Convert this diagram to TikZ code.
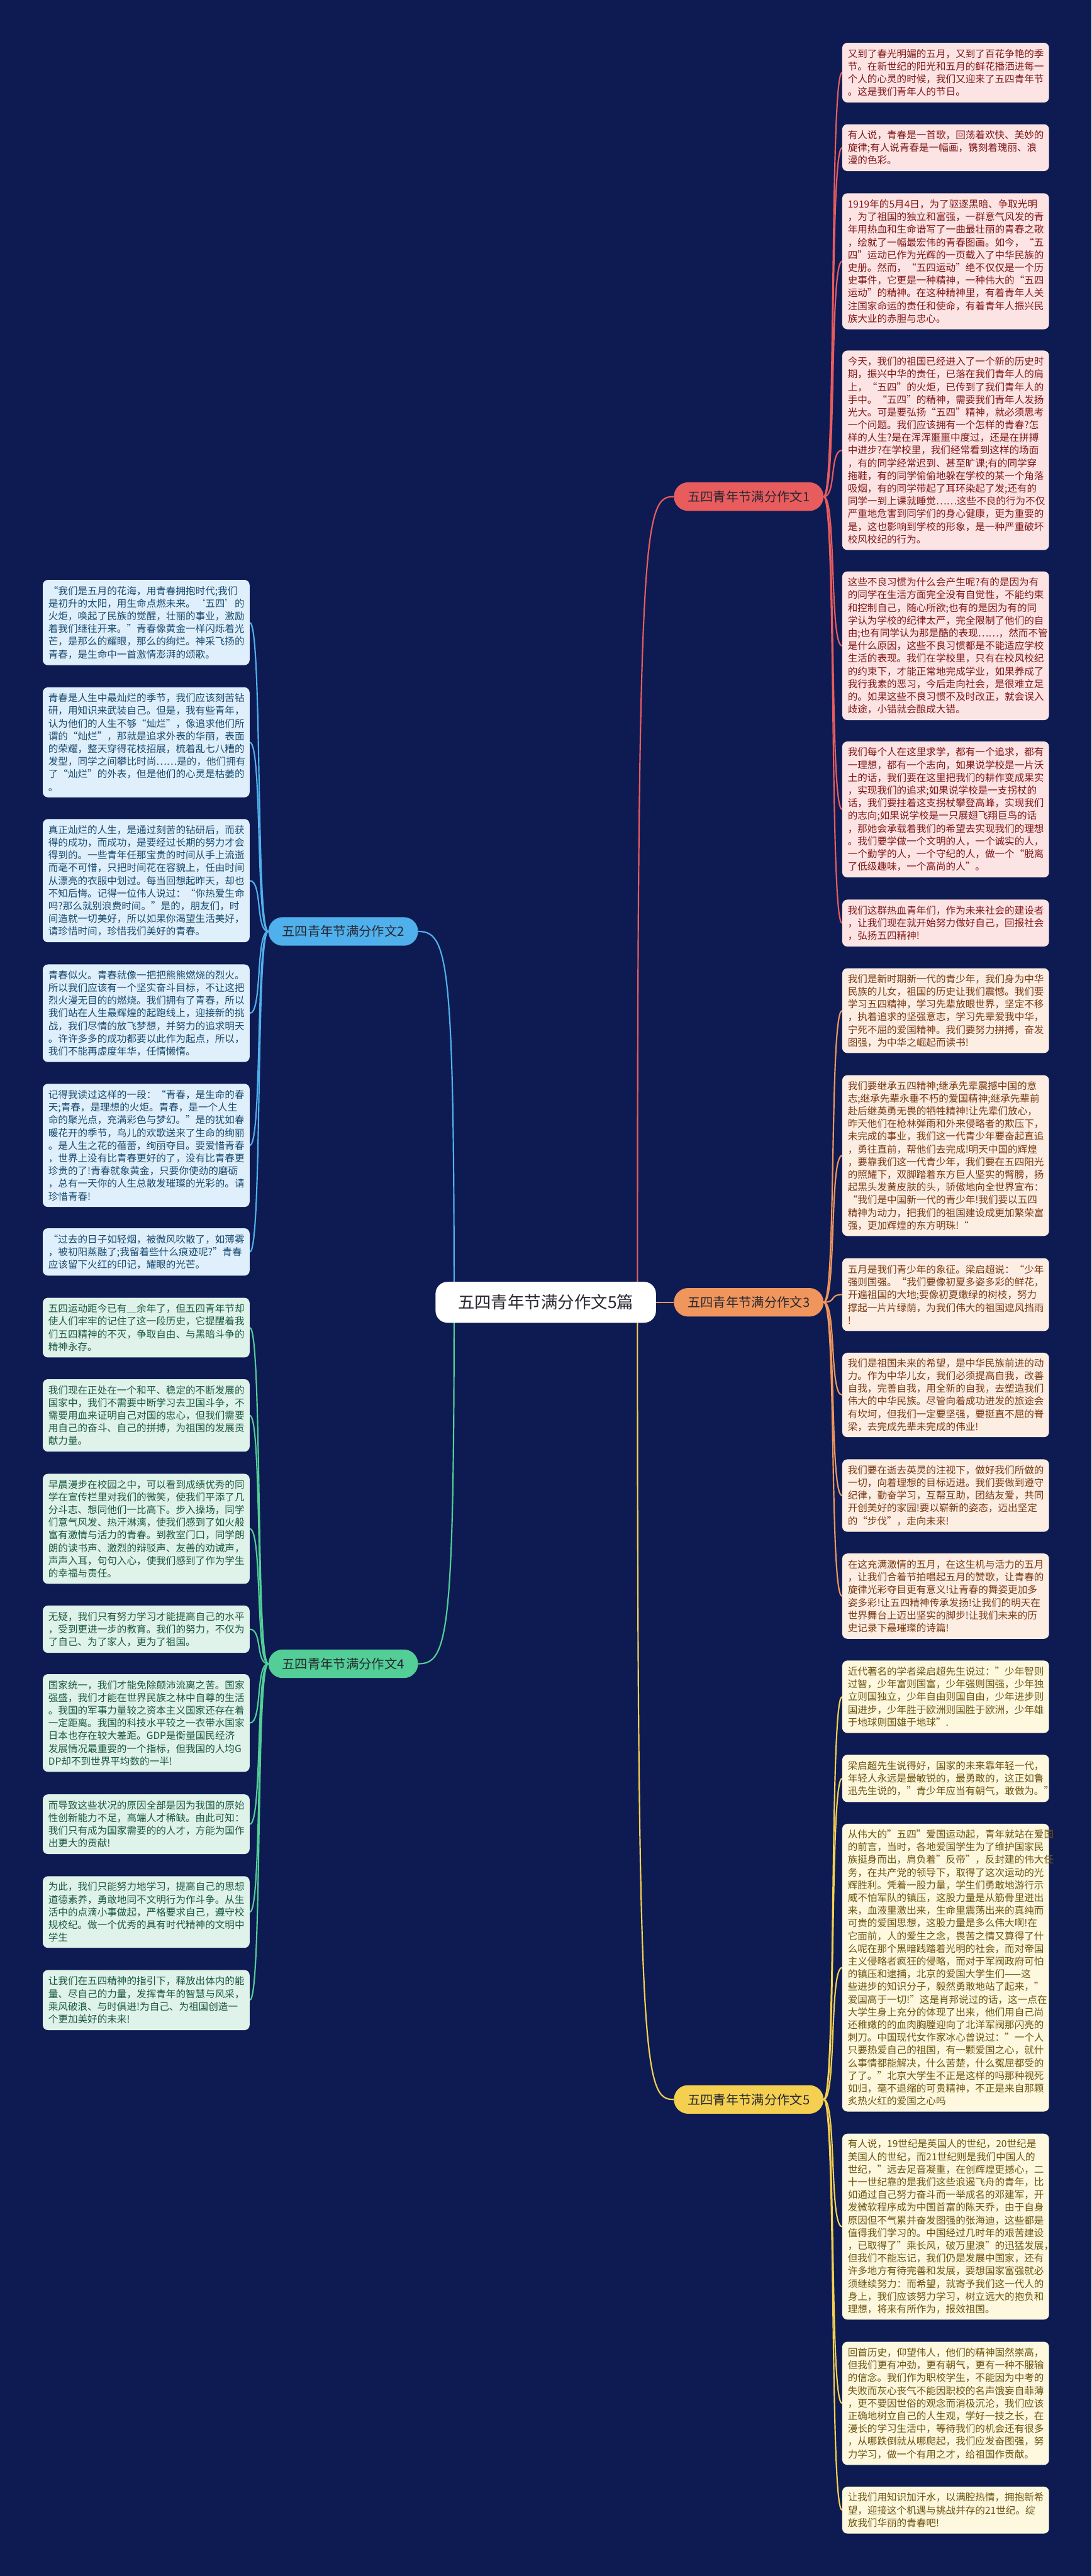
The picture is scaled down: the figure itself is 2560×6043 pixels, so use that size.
\documentclass[tikz,border=0pt]{standalone}
\usepackage{fontspec}
\setmainfont{Noto Sans CJK SC}
\usetikzlibrary{calc}
\definecolor{bgc}{RGB}{13,27,82}
\definecolor{redline}{RGB}{232,92,94}
\definecolor{redfill}{RGB}{253,228,228}
\definecolor{redtext}{RGB}{128,24,24}
\definecolor{orline}{RGB}{240,150,92}
\definecolor{orfill}{RGB}{253,238,228}
\definecolor{ortext}{RGB}{122,58,18}
\definecolor{yeline}{RGB}{245,208,80}
\definecolor{yefill}{RGB}{253,248,222}
\definecolor{yetext}{RGB}{110,84,16}
\definecolor{blline}{RGB}{80,176,236}
\definecolor{blfill}{RGB}{223,240,252}
\definecolor{bltext}{RGB}{26,74,110}
\definecolor{grline}{RGB}{82,206,150}
\definecolor{grfill}{RGB}{223,243,234}
\definecolor{grtext}{RGB}{28,88,64}
\definecolor{brtext}{RGB}{40,40,50}
\pgfdeclarelayer{bg}
\pgfdeclarelayer{edges}
\pgfsetlayers{bg,edges,main}
\tikzset{
  card/.style={anchor=north west, rounded corners=6pt, inner xsep=6.5pt, inner ysep=3pt,
    text width=229.5pt, align=left, font=\fontsize{11.5pt}{14.9pt}\selectfont},
  redcard/.style={card, fill=redfill, text=redtext},
  orcard/.style={card, fill=orfill, text=ortext},
  yecard/.style={card, fill=yefill, text=yetext},
  blcard/.style={card, fill=blfill, text=bltext},
  grcard/.style={card, fill=grfill, text=grtext},
  branch/.style={rounded corners=16.75pt, minimum width=175.5pt, minimum height=33.5pt,
    inner sep=0pt, font=\fontsize{15pt}{18pt}\selectfont, text=brtext},
  hub/.style={rounded corners=14pt, minimum width=258.5pt, minimum height=48pt,
    inner sep=0pt, fill=white, font=\fontsize{19.5pt}{23pt}\selectfont, text=brtext},
  link/.style={line width=1.6pt},
}
\newcommand\card[6]{\node[#2, minimum height={#5*0.5pt-#4*0.5pt}] (#1) at (#3,#4) {#6};}
\begin{document}
\begin{tikzpicture}[x=0.5pt,y=-0.5pt]
\useasboundingbox (0,0) rectangle (2560,6043);
\begin{pgfonlayer}{bg}
\fill[bgc] (0,0) rectangle (2560,6043);
\end{pgfonlayer}

% central and branch nodes
\node[hub] (c) at (1280,3055) {五四青年节满分作文5篇};
\coordinate (cR) at (1495,3055);
\coordinate (cL) at (1065,3055);
\node[branch, fill=redline] (B1) at (1756,1165) {五四青年节满分作文1};
\node[branch, fill=blline] (B2) at (805,2185) {五四青年节满分作文2};
\node[branch, fill=orline] (B3) at (1756,3055) {五四青年节满分作文3};
\node[branch, fill=grline] (B4) at (805,3903) {五四青年节满分作文4};
\node[branch, fill=yeline] (B5) at (1756,4925) {五四青年节满分作文5};

% branch 1
\card{r1}{redcard}{1975}{100}{240}{又到了春光明媚的五月，又到了百花争艳的季\\节。在新世纪的阳光和五月的鲜花播洒进每一\\个人的心灵的时候，我们又迎来了五四青年节\\。这是我们青年人的节日。}
\card{r2}{redcard}{1975}{291}{401}{有人说，青春是一首歌，回荡着欢快、美妙的\\旋律;有人说青春是一幅画，镌刻着瑰丽、浪\\漫的色彩。}
\card{r3}{redcard}{1975}{453}{772}{1919年的5月4日，为了驱逐黑暗、争取光明\\，为了祖国的独立和富强，一群意气风发的青\\年用热血和生命谱写了一曲最壮丽的青春之歌\\，绘就了一幅最宏伟的青春图画。如今，“五\\四”运动已作为光辉的一页载入了中华民族的\\史册。然而，“五四运动”绝不仅仅是一个历\\史事件，它更是一种精神，一种伟大的“五四\\运动”的精神。在这种精神里，有着青年人关\\注国家命运的责任和使命，有着青年人振兴民\\族大业的赤胆与忠心。}
\card{r4}{redcard}{1975}{822}{1290}{今天，我们的祖国已经进入了一个新的历史时\\期，振兴中华的责任，已落在我们青年人的肩\\上，“五四”的火炬，已传到了我们青年人的\\手中。“五四”的精神，需要我们青年人发扬\\光大。可是要弘扬“五四”精神，就必须思考\\一个问题。我们应该拥有一个怎样的青春?怎\\样的人生?是在浑浑噩噩中度过，还是在拼搏\\中进步?在学校里，我们经常看到这样的场面\\，有的同学经常迟到、甚至旷课;有的同学穿\\拖鞋，有的同学偷偷地躲在学校的某一个角落\\吸烟，有的同学带起了耳环染起了发;还有的\\同学一到上课就睡觉……这些不良的行为不仅\\严重地危害到同学们的身心健康，更为重要的\\是，这也影响到学校的形象，是一种严重破坏\\校风校纪的行为。}
\card{r5}{redcard}{1975}{1340}{1689}{这些不良习惯为什么会产生呢?有的是因为有\\的同学在生活方面完全没有自觉性，不能约束\\和控制自己，随心所欲;也有的是因为有的同\\学认为学校的纪律太严，完全限制了他们的自\\由;也有同学认为那是酷的表现……，然而不管\\是什么原因，这些不良习惯都是不能适应学校\\生活的表现。我们在学校里，只有在校风校纪\\的约束下，才能正常地完成学业，如果养成了\\我行我素的恶习，今后走向社会，是很难立足\\的。如果这些不良习惯不及时改正，就会误入\\歧途，小错就会酿成大错。}
\card{r6}{redcard}{1975}{1739}{2058}{我们每个人在这里求学，都有一个追求，都有\\一理想，都有一个志向，如果说学校是一片沃\\土的话，我们要在这里把我们的耕作变成果实\\，实现我们的追求;如果说学校是一支拐杖的\\话，我们要拄着这支拐杖攀登高峰，实现我们\\的志向;如果说学校是一只展翅飞翔巨鸟的话\\，那她会承载着我们的希望去实现我们的理想\\。我们要学做一个文明的人，一个诚实的人，\\一个勤学的人，一个守纪的人，做一个“脱离\\了低级趣味，一个高尚的人”。}
\card{r7}{redcard}{1975}{2110}{2220}{我们这群热血青年们，作为未来社会的建设者\\，让我们现在就开始努力做好自己，回报社会\\，弘扬五四精神!}

% branch 3
\card{r8}{orcard}{1975}{2271}{2470}{我们是新时期新一代的青少年，我们身为中华\\民族的儿女，祖国的历史让我们震憾。我们要\\学习五四精神，学习先辈放眼世界，坚定不移\\，执着追求的坚强意志，学习先辈爱我中华，\\宁死不屈的爱国精神。我们要努力拼搏，奋发\\图强，为中华之崛起而读书!}
\card{r9}{orcard}{1975}{2522}{2899}{我们要继承五四精神;继承先辈震撼中国的意\\志;继承先辈永垂不朽的爱国精神;继承先辈前\\赴后继英勇无畏的牺牲精神!让先辈们放心，\\昨天他们在枪林弹雨和外来侵略者的欺压下，\\未完成的事业，我们这一代青少年要奋起直追\\，勇往直前，帮他们去完成!明天中国的辉煌\\，要靠我们这一代青少年，我们要在五四阳光\\的照耀下，双脚踏着东方巨人坚实的臂膀，扬\\起黑头发黄皮肤的头，骄傲地向全世界宣布：\\“我们是中国新一代的青少年!我们要以五四\\精神为动力，把我们的祖国建设成更加繁荣富\\强，更加辉煌的东方明珠!“}
\card{r10}{orcard}{1975}{2951}{3122}{五月是我们青少年的象征。梁启超说：“少年\\强则国强。“我们要像初夏多姿多彩的鲜花，\\开遍祖国的大地;要像初夏嫩绿的树枝，努力\\撑起一片片绿荫，为我们伟大的祖国遮风挡雨\\!}
\card{r11}{orcard}{1975}{3173}{3371}{我们是祖国未来的希望，是中华民族前进的动\\力。作为中华儿女，我们必须提高自我，改善\\自我，完善自我，用全新的自我，去塑造我们\\伟大的中华民族。尽管向着成功进发的旅途会\\有坎坷，但我们一定要坚强，要挺直不屈的脊\\梁，去完成先辈未完成的伟业!}
\card{r12}{orcard}{1975}{3423}{3593}{我们要在逝去英灵的注视下，做好我们所做的\\一切，向着理想的目标迈进。我们要做到遵守\\纪律，勤奋学习，互帮互助，团结友爱，共同\\开创美好的家园!要以崭新的姿态，迈出坚定\\的“步伐”，走向未来!}
\card{r13}{orcard}{1975}{3644}{3844}{在这充满激情的五月，在这生机与活力的五月\\，让我们合着节拍唱起五月的赞歌，让青春的\\旋律光彩夺目更有意义!让青春的舞姿更加多\\姿多彩!让五四精神传承发扬!让我们的明天在\\世界舞台上迈出坚实的脚步!让我们未来的历\\史记录下最璀璨的诗篇!}

% branch 5
\card{r14}{yecard}{1975}{3895}{4065}{近代著名的学者梁启超先生说过："少年智则\\过智，少年富则国富，少年强则国强，少年独\\立则国独立，少年自由则国自由，少年进步则\\国进步，少年胜于欧洲则国胜于欧洲，少年雄\\于地球则国雄于地球".}
\card{r15}{yecard}{1975}{4116}{4227}{梁启超先生说得好，国家的未来靠年轻一代，\\年轻人永远是最敏锐的，最勇敢的，这正如鲁\\迅先生说的，"青少年应当有朝气，敢做为。"}
\card{r16}{yecard}{1975}{4278}{4953}{从伟大的"五四"爱国运动起，青年就站在爱国\\的前言，当时，各地爱国学生为了维护国家民\\族挺身而出，肩负着"反帝"，反封建的伟大任\\务，在共产党的领导下，取得了这次运动的光\\辉胜利。凭着一股力量，学生们勇敢地游行示\\威不怕军队的镇压，这股力量是从筋骨里迸出\\来，血液里激出来，生命里震荡出来的真纯而\\可贵的爱国思想，这股力量是多么伟大啊!在\\它面前，人的爱生之念，畏苦之情又算得了什\\么呢在那个黑暗践踏着光明的社会，而对帝国\\主义侵略者疯狂的侵略，而对于军阀政府可怕\\的镇压和逮捕，北京的爱国大学生们——这\\些进步的知识分子，毅然勇敢地站了起来，"\\爱国高于一切!"这是肖邦说过的话，这一点在\\大学生身上充分的体现了出来，他们用自己尚\\还稚嫩的的血肉胸膛迎向了北洋军阀那闪亮的\\刺刀。中国现代女作家冰心曾说过："一个人\\只要热爱自己的祖国，有一颗爱国之心，就什\\么事情都能解决，什么苦楚，什么冤屈都受的\\了了。"北京大学生不正是这样的吗那种视死\\如归，毫不退缩的可贵精神，不正是来自那颗\\炙热火红的爱国之心吗}
\card{r17}{yecard}{1975}{5005}{5441}{有人说，19世纪是英国人的世纪，20世纪是\\美国人的世纪，而21世纪则是我们中国人的\\世纪，"远去足音凝重，在创辉煌更撼心，二\\十一世纪靠的是我们这些浪遏飞舟的青年，比\\如通过自己努力奋斗而一举成名的邓建军，开\\发微软程序成为中国首富的陈天乔，由于自身\\原因但不气累并奋发图强的张海迪，这些都是\\值得我们学习的。中国经过几时年的艰苦建设\\，已取得了"乘长风，破万里浪"的迅猛发展，\\但我们不能忘记，我们仍是发展中国家，还有\\许多地方有待完善和发展，要想国家富强就必\\须继续努力：而希望，就寄予我们这一代人的\\身上，我们应该努力学习，树立远大的抱负和\\理想，将来有所作为，报效祖国。}
\card{r18}{yecard}{1975}{5493}{5782}{回首历史，仰望伟人，他们的精神固然崇高，\\但我们更有冲劲，更有朝气，更有一种不服输\\的信念。我们作为职校学生，不能因为中考的\\失败而灰心丧气不能因职校的名声饿妄自菲薄\\，更不要因世俗的观念而消极沉沦，我们应该\\正确地树立自己的人生观，学好一技之长，在\\漫长的学习生活中，等待我们的机会还有很多\\，从哪跌倒就从哪爬起，我们应发奋图强，努\\力学习，做一个有用之才，给祖国作贡献。}
\card{r19}{yecard}{1975}{5833}{5943}{让我们用知识加汗水，以满腔热情，拥抱新希\\望，迎接这个机遇与挑战并存的21世纪。绽\\放我们华丽的青春吧!}

% branch 2
\card{l1}{blcard}{100}{1360}{1560}{“我们是五月的花海，用青春拥抱时代;我们\\是初升的太阳，用生命点燃未来。‘五四’的\\火炬，唤起了民族的觉醒，壮丽的事业，激励\\着我们继往开来。”青春像黄金一样闪烁着光\\芒，是那么的耀眼，那么的绚烂。神采飞扬的\\青春，是生命中一首激情澎湃的颂歌。}
\card{l2}{blcard}{100}{1612}{1870}{青春是人生中最灿烂的季节，我们应该刻苦钻\\研，用知识来武装自己。但是，我有些青年，\\认为他们的人生不够“灿烂”，像追求他们所\\谓的“灿烂”，那就是追求外表的华丽，表面\\的荣耀，整天穿得花枝招展，梳着乱七八糟的\\发型，同学之间攀比时尚……是的，他们拥有\\了“灿烂”的外表，但是他们的心灵是枯萎的\\。}
\card{l3}{blcard}{100}{1921}{2210}{真正灿烂的人生，是通过刻苦的钻研后，而获\\得的成功，而成功，是要经过长期的努力才会\\得到的。一些青年任那宝贵的时间从手上流逝\\而毫不可惜，只把时间花在容貌上，任由时间\\从漂亮的衣服中划过。每当回想起昨天，却也\\不知后悔。记得一位伟人说过：“你热爱生命\\吗?那么就别浪费时间。”是的，朋友们，时\\间造就一切美好，所以如果你渴望生活美好，\\请珍惜时间，珍惜我们美好的青春。}
\card{l4}{blcard}{100}{2262}{2491}{青春似火。青春就像一把把熊熊燃烧的烈火。\\所以我们应该有一个坚实奋斗目标，不让这把\\烈火漫无目的的燃烧。我们拥有了青春，所以\\我们站在人生最辉煌的起跑线上，迎接新的挑\\战，我们尽情的放飞梦想，并努力的追求明天\\。许许多多的成功都要以此作为起点，所以，\\我们不能再虚度年华，任情懒惰。}
\card{l5}{blcard}{100}{2542}{2831}{记得我读过这样的一段：“青春，是生命的春\\天;青春，是理想的火炬。青春，是一个人生\\命的聚光点，充满彩色与梦幻。”是的犹如春\\暖花开的季节，鸟儿的欢歌送来了生命的绚丽\\。是人生之花的蓓蕾，绚丽夺目。要爱惜青春\\，世界上没有比青春更好的了，没有比青春更\\珍贵的了!青春就象黄金，只要你使劲的磨砺\\，总有一天你的人生总散发璀璨的光彩的。请\\珍惜青春!}
\card{l6}{blcard}{100}{2881}{2992}{“过去的日子如轻烟，被微风吹散了，如薄雾\\，被初阳蒸融了;我留着些什么痕迹呢?”青春\\应该留下火红的印记，耀眼的光芒。}

% branch 4
\card{l7}{grcard}{100}{3044}{3184}{五四运动距今已有＿余年了，但五四青年节却\\使人们牢牢的记住了这一段历史，它提醒着我\\们五四精神的不灭，争取自由、与黑暗斗争的\\精神永存。}
\card{l8}{grcard}{100}{3235}{3405}{我们现在正处在一个和平、稳定的不断发展的\\国家中，我们不需要中断学习去卫国斗争，不\\需要用血来证明自己对国的忠心，但我们需要\\用自己的奋斗、自己的拼搏，为祖国的发展贡\\献力量。}
\card{l9}{grcard}{100}{3457}{3715}{早晨漫步在校园之中，可以看到成绩优秀的同\\学在宣传栏里对我们的微笑，使我们平添了几\\分斗志、想同他们一比高下。步入操场，同学\\们意气风发、热汗淋漓，使我们感到了如火般\\富有激情与活力的青春。到教室门口，同学朗\\朗的读书声、激烈的辩驳声、友善的劝诫声，\\声声入耳，句句入心，使我们感到了作为学生\\的幸福与责任。}
\card{l10}{grcard}{100}{3766}{3877}{无疑，我们只有努力学习才能提高自己的水平\\，受到更进一步的教育。我们的努力，不仅为\\了自己、为了家人，更为了祖国。}
\card{l11}{grcard}{100}{3927}{4156}{国家统一，我们才能免除颠沛流离之苦。国家\\强盛，我们才能在世界民族之林中自尊的生活\\。我国的军事力量较之资本主义国家还存在着\\一定距离。我国的科技水平较之一衣带水国家\\日本也存在较大差距。GDP是衡量国民经济\\发展情况最重要的一个指标，但我国的人均G\\DP却不到世界平均数的一半!}
\card{l12}{grcard}{100}{4209}{4349}{而导致这些状况的原因全部是因为我国的原始\\性创新能力不足，高端人才稀缺。由此可知：\\我们只有成为国家需要的的人才，方能为国作\\出更大的贡献!}
\card{l13}{grcard}{100}{4401}{4569}{为此，我们只能努力地学习，提高自己的思想\\道德素养，勇敢地同不文明行为作斗争。从生\\活中的点滴小事做起，严格要求自己，遵守校\\规校纪。做一个优秀的具有时代精神的文明中\\学生}
\card{l14}{grcard}{100}{4621}{4762}{让我们在五四精神的指引下，释放出体内的能\\量、尽自己的力量，发挥青年的智慧与风采，\\乘风破浪、与时俱进!为自己、为祖国创造一\\个更加美好的未来!}

\begin{pgfonlayer}{edges}
\draw[link, redline] (cR) .. controls (1495,1230) and (1510,1165) .. (B1.west);
\draw[link, orline] (c.east) -- (B3.west);
\draw[link, yeline] (cR) .. controls (1495,4860) and (1510,4925) .. (B5.west);
\draw[link, blline] (cL) .. controls (1065,2250) and (1050,2185) .. (B2.east);
\draw[link, grline] (cL) .. controls (1065,3838) and (1050,3903) .. (B4.east);
\foreach \i in {1,...,7}
  \draw[link, redline] (B1.east) .. controls +(30,0) and +(-30,0) .. (r\i.west);
\foreach \i in {8,...,13}
  \draw[link, orline] (B3.east) .. controls +(30,0) and +(-30,0) .. (r\i.west);
\foreach \i in {14,...,19}
  \draw[link, yeline] (B5.east) .. controls +(30,0) and +(-30,0) .. (r\i.west);
\foreach \i in {1,...,6}
  \draw[link, blline] (B2.west) .. controls +(-30,0) and +(30,0) .. (l\i.east);
\foreach \i in {7,...,14}
  \draw[link, grline] (B4.west) .. controls +(-30,0) and +(30,0) .. (l\i.east);
\end{pgfonlayer}
\end{tikzpicture}
\end{document}
